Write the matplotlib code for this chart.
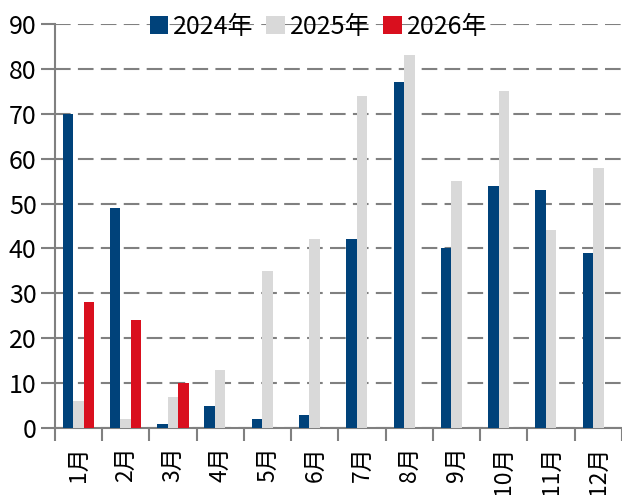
import numpy as np
import matplotlib
matplotlib.use('Agg')
from matplotlib import pyplot as plt

plt.rcParams['font.family'] = ['Noto Sans CJK SC', 'DejaVu Sans']

months = ['1月', '2月', '3月', '4月', '5月', '6月', '7月', '8月', '9月', '10月', '11月', '12月']
v2024 = [70, 49, 1, 5, 2, 3, 42, 77, 40, 54, 53, 39]
v2025 = [6, 2, 7, 13, 35, 42, 74, 83, 55, 75, 44, 58]
v2026 = [28, 24, 10]

c2024 = '#00427a'
c2025 = '#d9d9d9'
c2026 = '#d90f1e'
grid_c = '#808080'

fig = plt.figure(figsize=(6.22, 4.95), dpi=100)
ax = fig.add_axes([0.088, 0.135, 0.912, 0.817])

x = np.arange(len(months))
w = 0.222
ax.bar(x - w, v2024, w, color=c2024, label='2024年', zorder=3)
ax.bar(x, v2025, w, color=c2025, label='2025年', zorder=3)
ax.bar(np.arange(len(v2026)) + w, v2026, w, color=c2026, label='2026年', zorder=3)

ax.set_ylim(0, 90)
ax.set_xlim(-0.5, len(months) - 0.5)
ax.set_yticks(range(0, 91, 10))
ax.yaxis.grid(True, color=grid_c, linestyle=(0, (7.5, 3.5)), linewidth=1.5, zorder=0)
ax.set_axisbelow(True)

# category ticks sit between the groups
ax.set_xticks(np.arange(-0.5, len(months), 1.0))
ax.set_xticklabels([])
ax.set_xticks(x, minor=True)
ax.set_xticklabels(months, minor=True, rotation=90, fontsize=16.5)
ax.tick_params(axis='x', which='major', length=9, width=1.5, color=grid_c, direction='out')
ax.tick_params(axis='x', which='minor', length=0, pad=13)
ax.tick_params(axis='y', length=10, width=1.5, color=grid_c, labelsize=18, pad=3)

for s in ['top', 'right']:
    ax.spines[s].set_visible(False)
for s in ['left', 'bottom']:
    ax.spines[s].set_color(grid_c)
    ax.spines[s].set_linewidth(1.5)

leg = ax.legend(loc='upper center', bbox_to_anchor=(0.465, 1.05), ncol=3, frameon=False,
                fontsize=18, handlelength=0.75, handleheight=0.75, handletextpad=0.2,
                columnspacing=0.5, borderaxespad=0)

plt.savefig('out.png', dpi=100)
